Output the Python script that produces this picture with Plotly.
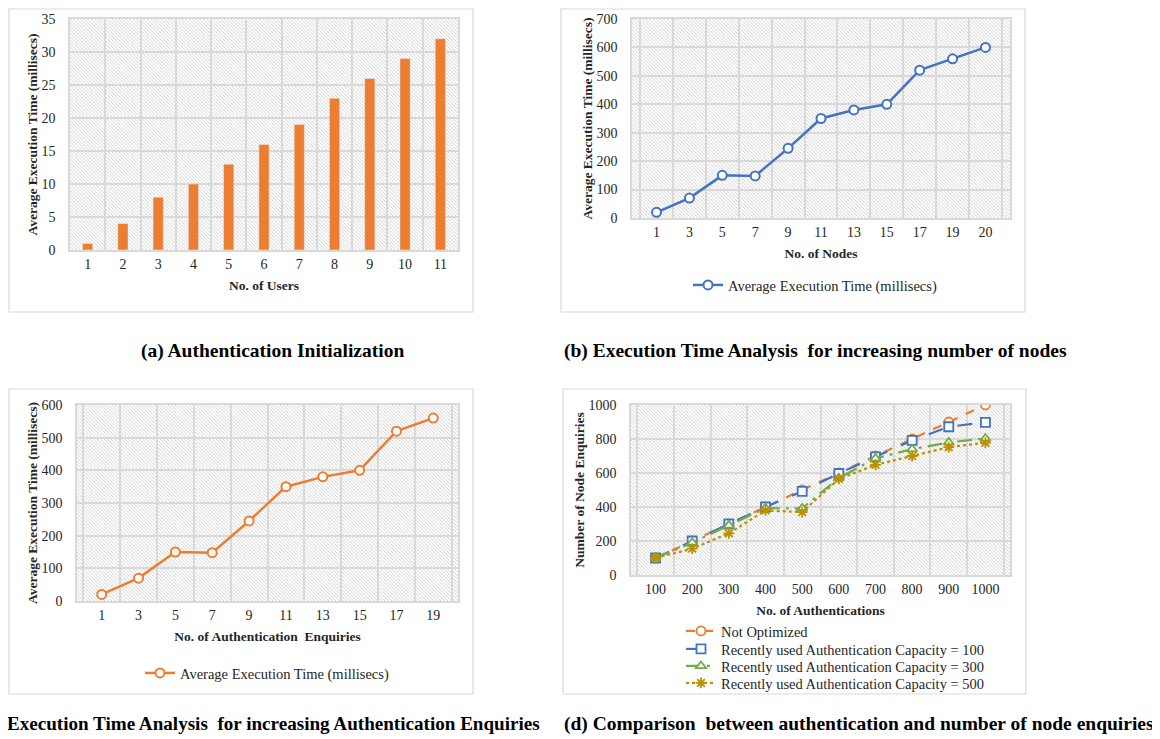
import base64
import plotly.graph_objects as go

# page body has an 8px margin: map reference pixels to figure pixels
OFF = 8
FW, FH = 1160 - OFF, 739 - OFF

# ---------------- data ----------------
users = ["1", "2", "3", "4", "5", "6", "7", "8", "9", "10", "11"]
init_time = [1, 4, 8, 10, 13, 16, 19, 23, 26, 29, 32]

nodes = ["1", "3", "5", "7", "9", "11", "13", "15", "17", "19", "20"]
node_time = [20, 70, 150, 148, 245, 350, 380, 400, 520, 560, 600]

enquiries = ["1", "3", "5", "7", "9", "11", "13", "15", "17", "19"]
enq_time = [20, 70, 150, 148, 245, 350, 380, 400, 520, 560]

auths = ["100", "200", "300", "400", "500", "600", "700", "800", "900", "1000"]
not_optimized = [100, 200, 300, 400, 500, 600, 700, 800, 900, 1000]
cap100 = [100, 200, 300, 400, 492, 597, 695, 792, 872, 898]
cap300 = [100, 190, 292, 393, 392, 570, 686, 740, 780, 803]
cap500 = [100, 155, 245, 380, 370, 565, 648, 700, 752, 778]

# ---------------- helpers ----------------
ORANGE = "#ED7D31"
BLUE = "#4472C4"
GREEN = "#70AD47"
GOLD = "#BF8F00"
GRID = "#d9d9d9"
TXT = "#262626"
SERIF = "Liberation Serif"


def px_x(p):
    return (p - OFF) / FW


def px_y(p):
    return 1 - (p - OFF) / FH


def hatch(w, h):
    svg = (
        f'<svg xmlns="http://www.w3.org/2000/svg" width="{w}" height="{h}" viewBox="0 0 {w} {h}">'
        '<defs><pattern id="p" width="3.5" height="3.5" patternUnits="userSpaceOnUse">'
        '<path d="M0,0 L3.5,3.5 M-1,2.5 L1,4.5 M2.5,-1 L4.5,1" stroke="#c6c6c6" stroke-width="0.8"/>'
        '</pattern></defs>'
        f'<rect width="{w}" height="{h}" fill="#ffffff"/>'
        f'<rect width="{w}" height="{h}" fill="url(#p)"/></svg>'
    )
    return "data:image/svg+xml;base64," + base64.b64encode(svg.encode()).decode()


# plot-area pixel boxes in reference pixels: (left, right, top, bottom)
boxes = {
    "1": (70, 458, 19, 250),
    "2": (632, 1010, 19, 218),
    "3": (77, 458, 405, 601),
    "4": (631, 1010, 405, 575),
}

fig = go.Figure()

# (a) bars
fig.add_trace(go.Bar(x=users, y=init_time, marker_color=ORANGE, showlegend=False,
                     xaxis="x", yaxis="y"))

# (b) nodes line
fig.add_trace(go.Scatter(x=nodes, y=node_time, mode="lines+markers",
                         name="Average Execution Time (millisecs)",
                         line=dict(color=BLUE, width=2.5),
                         marker=dict(symbol="circle", size=9, color="white",
                                     line=dict(color=BLUE, width=2)),
                         xaxis="x2", yaxis="y2", legend="legend"))

# (c) enquiries line
fig.add_trace(go.Scatter(x=enquiries, y=enq_time, mode="lines+markers",
                         name="Average Execution Time (millisecs)",
                         line=dict(color=ORANGE, width=2.5),
                         marker=dict(symbol="circle", size=9, color="white",
                                     line=dict(color=ORANGE, width=2)),
                         xaxis="x3", yaxis="y3", legend="legend2"))

# (d) comparison lines, one legend row each
series_d = [
    ("Not Optimized", not_optimized, ORANGE, "dash", "circle"),
    ("Recently used Authentication Capacity = 100", cap100, BLUE, "longdash", "square"),
    ("Recently used Authentication Capacity = 300", cap300, GREEN, "longdashdot", "triangle-up"),
    ("Recently used Authentication Capacity = 500", cap500, GOLD, "dot", "asterisk-open"),
]
for i, (name, vals, col, dash, sym) in enumerate(series_d):
    fig.add_trace(go.Scatter(x=auths, y=vals, mode="lines+markers", name=name,
                             line=dict(color=col, width=2.2, dash=dash),
                             marker=dict(symbol=sym, size=9,
                                         color="white" if "open" not in sym else col,
                                         line=dict(color=col, width=1.8)),
                             xaxis="x4", yaxis="y4", legend=f"legend{3 + i}"))


def xaxis(k, title):
    l, r, t, b = boxes[k]
    return dict(domain=[px_x(l), px_x(r)], anchor="y" if k == "1" else f"y{k}",
                type="category", tickson="boundaries", tickangle=0,
                showgrid=True, gridcolor=GRID, gridwidth=1.5,
                showline=True, linecolor=GRID, linewidth=1.5, mirror=True,
                ticks="outside", ticklen=12, tickcolor="rgba(0,0,0,0)",
                tickfont=dict(family=SERIF, size=14, color=TXT),
                title=dict(text=f"<b>{title}</b>", standoff=10,
                           font=dict(family=SERIF, size=13.5, color=TXT)),
                zeroline=False, automargin=False, fixedrange=True)


def yaxis(k, title, rng, dtick):
    l, r, t, b = boxes[k]
    return dict(domain=[px_y(b), px_y(t)], anchor="x" if k == "1" else f"x{k}",
                range=rng, dtick=dtick,
                showgrid=True, gridcolor=GRID, gridwidth=1.5,
                showline=True, linecolor=GRID, linewidth=1.5, mirror=True,
                ticks="outside", ticklen=10, tickcolor="rgba(0,0,0,0)",
                tickfont=dict(family=SERIF, size=14, color=TXT),
                title=dict(text=f"<b>{title}</b>", standoff=1,
                           font=dict(family=SERIF, size=13.5, color=TXT)),
                zeroline=False, automargin=False, fixedrange=True)


images = []
for k, (l, r, t, b) in boxes.items():
    xr = "x" if k == "1" else f"x{k}"
    yr = "y" if k == "1" else f"y{k}"
    images.append(dict(source=hatch(r - l, b - t), xref=f"{xr} domain", yref=f"{yr} domain",
                       x=0, y=1, sizex=1, sizey=1, sizing="stretch",
                       xanchor="left", yanchor="top", layer="below"))

# panel frames (reference pixels)
frames = [(5, 473, 4, 312), (561, 1025, 4, 312), (5, 473, 389, 694), (563, 1026, 389, 694)]
shapes = [dict(type="rect", xref="paper", yref="paper",
               x0=px_x(max(a, OFF + 1)), x1=px_x(b), y0=px_y(d), y1=px_y(max(c, OFF + 1)),
               line=dict(color=GRID, width=1.2), fillcolor="rgba(0,0,0,0)", layer="below")
          for a, b, c, d in frames]

annotations = [
    dict(text="<b>(a) Authentication Initialization</b>", x=px_x(272), y=px_y(351),
         xanchor="center", yanchor="middle", size=19.5),
    dict(text="<b>(b) Execution Time Analysis  for increasing number of nodes</b>",
         x=px_x(562), y=px_y(351), xanchor="left", yanchor="middle", size=19.5),
    dict(text="<b>(c) Execution Time Analysis  for increasing Authentication Enquiries</b>",
         x=px_x(542), y=px_y(724), xanchor="right", yanchor="middle", size=19.1),
    dict(text="<b>(d) Comparison  between authentication and number of node enquiries</b>",
         x=px_x(562), y=px_y(724), xanchor="left", yanchor="middle", size=19.5),
]
for a in annotations:
    s = a.pop("size")
    a.update(xref="paper", yref="paper", showarrow=False,
             font=dict(family=SERIF, size=s, color="#000000"))

leg_font = dict(family=SERIF, size=14.5, color=TXT)
legends = dict(
    legend=dict(x=px_x(815), y=px_y(285), xanchor="center", yanchor="middle",
                orientation="h", font=leg_font, bgcolor="rgba(0,0,0,0)"),
    legend2=dict(x=px_x(267), y=px_y(673), xanchor="center", yanchor="middle",
                 orientation="h", font=leg_font, bgcolor="rgba(0,0,0,0)"),
)
for i, row_y in enumerate([631, 649, 666, 683]):
    legends[f"legend{3 + i}"] = dict(x=px_x(681), y=px_y(row_y), xanchor="left", yanchor="middle",
                                     orientation="v", font=dict(family=SERIF, size=14.5, color=TXT),
                                     bgcolor="rgba(0,0,0,0)")

fig.update_layout(
    width=FW, height=FH,
    margin=dict(l=0, r=0, t=0, b=0),
    paper_bgcolor="white", plot_bgcolor="white",
    bargap=0.71,
    xaxis=xaxis("1", "No. of Users"),
    yaxis=yaxis("1", "Average Execution Time (millisecs)", [0, 35], 5),
    xaxis2=xaxis("2", "No. of Nodes"),
    yaxis2=yaxis("2", "Average Execution Time (millisecs)", [0, 700], 100),
    xaxis3=xaxis("3", "No. of Authentication  Enquiries"),
    yaxis3=yaxis("3", "Average Execution Time (millisecs)", [0, 600], 100),
    xaxis4=xaxis("4", "No. of Authentications"),
    yaxis4=yaxis("4", "Number of Node Enquiries", [0, 1000], 200),
    images=images,
    shapes=shapes,
    annotations=annotations,
    showlegend=True,
    **legends,
)

fig.write_html("out.html")
